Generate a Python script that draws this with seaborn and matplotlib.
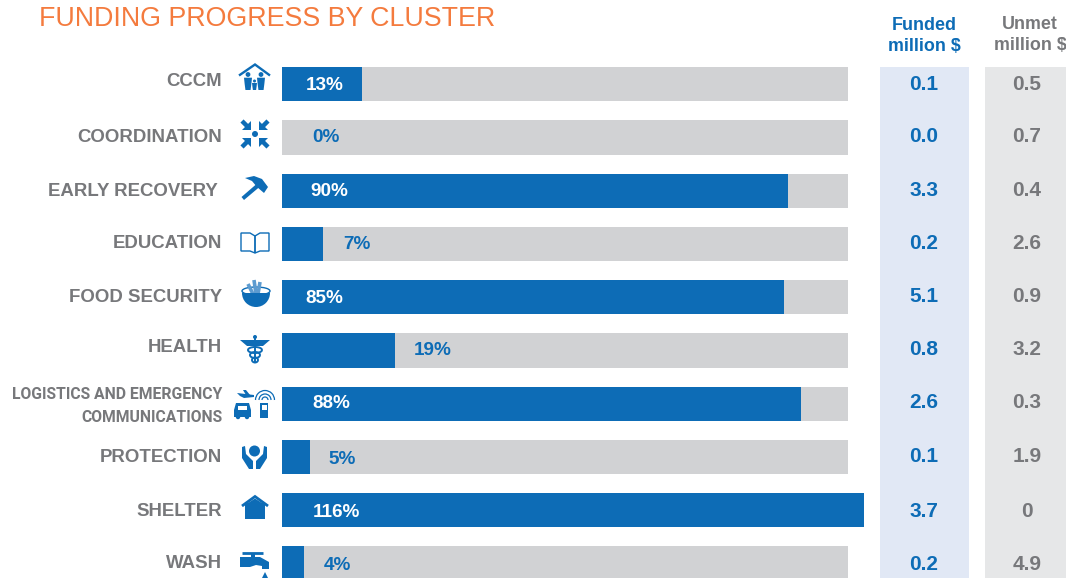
import numpy as np
import pandas as pd
import seaborn as sns
import matplotlib
matplotlib.use("Agg")
import matplotlib.pyplot as plt
from matplotlib.patches import Polygon, Circle, Rectangle, Wedge, Arc, Ellipse

clusters = ["CCCM", "COORDINATION", "EARLY RECOVERY", "EDUCATION", "FOOD SECURITY",
            "HEALTH", "LOGISTICS AND EMERGENCY\nCOMMUNICATIONS", "PROTECTION", "SHELTER", "WASH"]
track_pct = [100] * 10
bar_pct = [14.1, 0, 89.4, 7.2, 88.7, 20.0, 91.7, 4.9, 102.8, 3.9]
pct_labels = ["13%", "0%", "90%", "7%", "85%", "19%", "88%", "5%", "116%", "4%"]
funded = ["0.1", "0.0", "3.3", "0.2", "5.1", "0.8", "2.6", "0.1", "3.7", "0.2"]
unmet = ["0.5", "0.7", "0.4", "2.6", "0.9", "3.2", "0.3", "1.9", "0", "4.9"]

BLUE, TRACK, GREY, ORANGE = "#0D6CB6", "#D1D2D4", "#77787B", "#F47B3E"
W, H = 1066, 578
sns.set_theme(style="white")
plt.rcParams["font.family"] = ["Liberation Sans", "DejaVu Sans"]

fig = plt.figure(figsize=(W / 100, H / 100), dpi=100, facecolor="white")

bg = fig.add_axes([0, 0, 1, 1], zorder=0)
bg.set_xlim(0, W); bg.set_ylim(H, 0); bg.axis("off")
bg.add_patch(Rectangle((880, 67), 89, H - 67, fc="#E1E8F5", ec="none"))
bg.add_patch(Rectangle((985, 67), 81, H - 67, fc="#E6E7E8", ec="none"))

# bars: x 0..100 -> px 282..848; categories 0..9 -> px 84 .. 563
x0, x100 = 282, 848
top = 57.6
ax = fig.add_axes([x0 / W, 0, (880 - x0) / W, (H - top) / H], zorder=1)
ax.patch.set_alpha(0)
df = pd.DataFrame({"cluster": clusters, "track": track_pct, "bar": bar_pct})
sns.barplot(data=df, y="cluster", x="track", color=TRACK, saturation=1, width=0.64, linewidth=0, ax=ax)
sns.barplot(data=df, y="cluster", x="bar", color=BLUE, saturation=1, width=0.64, linewidth=0, ax=ax)
ax.set_xlim(0, (880 - x0) / (x100 - x0) * 100)
ax.set_ylim((H - top) / 53.25 - 0.5, -0.5)
ax.axis("off")

ov = fig.add_axes([0, 0, 1, 1], zorder=2)
ov.set_xlim(0, W); ov.set_ylim(H, 0); ov.axis("off"); ov.patch.set_alpha(0)

ov.text(39, 19.5, "FUNDING PROGRESS BY CLUSTER", color=ORANGE, fontsize=19.3, ha="left", va="center")

def t(x, y, s, c, size=13.4, ha="center", **kw):
    ov.text(x, y, s, color=c, fontsize=size, fontweight="bold", ha=ha, va="center", **kw)

t(924, 25.5, "Funded", BLUE, 12.9); t(924, 46.5, "million $", BLUE, 12.9)
t(1030, 24.5, "Unmet", GREY, 12.9); t(1030, 45.5, "million $", GREY, 12.9)

label_y = [82, 137, 191, 244, 298, 348, None, 457, 512, 564]
label_x = [222, 222, 218, 222, 222, 222, None, 222, 222, 222]
pct_x = [324.5, 326, 329, 357, 324.5, 433, 331, 342, 336.5, 337]
pct_y = [85.5, 137.5, 191.5, 244.5, 298.5, 350.5, 403.5, 459.5, 512.5, 565.5]
val_y = [84, 136.5, 191, 243.5, 297, 349.5, 402, 457, 511.5, 564.5]
for i, c in enumerate(clusters):
    if label_y[i] is not None:
        t(label_x[i], label_y[i], c, GREY, ha="right")
    else:
        a, b = c.split("\n")
        t(222, 394.5, a, GREY, 11.3, ha="right", family="Roboto")
        t(222, 417.5, b, GREY, 11.3, ha="right", family="Roboto")
    inside = pct_labels[i] not in ("0%", "7%", "19%", "5%", "4%")
    t(pct_x[i], pct_y[i], pct_labels[i], "white" if inside else BLUE, 13.6)
    t(923.5, val_y[i], funded[i], BLUE, 15)
    t(1027, val_y[i], unmet[i], GREY, 15)

# ---- decorative cluster icons (pixel space) ----
def poly(pts, fc=BLUE, ec="none", lw=0, fill=True):
    ov.add_patch(Polygon(pts, closed=True, fc=fc if fill else "none", ec=ec, lw=lw))
def line(xs, ys, lw=1.5, c=BLUE):
    ov.plot(xs, ys, color=c, lw=lw, solid_capstyle="butt", solid_joinstyle="miter")
def person(cx, head_y, h, w):
    ov.add_patch(Circle((cx, head_y), w * 0.3, fc=BLUE, ec="none"))
    poly([(cx - w / 2, head_y + w * .4), (cx + w / 2, head_y + w * .4), (cx + w * .42, head_y + h * .6),
          (cx + w * .32, head_y + h), (cx - w * .32, head_y + h), (cx - w * .42, head_y + h * .6)])

# CCCM
line([239, 255, 270], [75.5, 64.5, 75.5], 1.7)
person(248, 74.5, 15.5, 8); person(261, 74.5, 15.5, 8); person(254.5, 81, 9, 5)

# coordination
ov.add_patch(Circle((255, 134), 3, fc=BLUE, ec="none"))
for dx, dy in [(-1, -1), (1, -1), (-1, 1), (1, 1)]:
    line([255 + dx * 13, 255 + dx * 7], [134 + dy * 13, 134 + dy * 7], 3.2)
    poly([(255 + dx * 4, 134 + dy * 4), (255 + dx * 13, 134 + dy * 4), (255 + dx * 4, 134 + dy * 13)])

# hammer
poly([(241.5, 197), (244, 200), (263, 184), (260, 181)])
poly([(245, 178), (254, 176), (262, 179), (268, 187), (264, 193), (257, 187), (252, 181)])

# book
for pts in ([(255, 236), (250, 233), (241, 233), (241, 251), (250, 251), (255, 253)],
            [(255, 236), (260, 233), (269, 233), (269, 251), (260, 251), (255, 253)]):
    poly(pts, ec=BLUE, lw=1, fill=False)

# food
for x1, x2, y1 in [(248, 253, 284), (254, 256, 280), (260, 258, 282)]:
    line([x1, x2], [y1, 294], 2.6, "#5C9BD0")
ov.add_patch(Ellipse((256, 291), 28, 8, fc="none", ec=BLUE, lw=1))
ov.add_patch(Wedge((256, 293), 14, 0, 180, fc=BLUE, ec="none", zorder=3))

# health
ov.add_patch(Circle((255, 337), 2, fc=BLUE, ec="none"))
line([255, 255], [337, 363], 1.4)
poly([(240, 340), (255, 340), (255, 346), (247, 346)])
poly([(270, 340), (255, 340), (255, 346), (263, 346)])
ov.add_patch(Arc((255, 350), 14, 6, fc="none", ec=BLUE, lw=1.4))
ov.add_patch(Arc((255, 355), 10, 6, fc="none", ec=BLUE, lw=1.4))
ov.add_patch(Arc((255, 360), 6, 5, fc="none", ec=BLUE, lw=1.4))

# logistics: plane, truck, phone and signal
poly([(237, 393), (254, 395), (254, 397), (244, 398), (240, 396)])
poly([(243, 390), (246, 390), (250, 395), (246, 395)])
poly([(241, 403), (249, 403), (251, 410), (251, 417), (234, 417), (234, 410), (236, 403)])
ov.add_patch(Rectangle((238, 405.5), 9, 4, fc="white", ec="none"))
ov.add_patch(Circle((238, 417), 2.2, fc=BLUE, ec="none")); ov.add_patch(Circle((247, 417), 2.2, fc=BLUE, ec="none"))
ov.add_patch(Rectangle((260, 403), 8, 15, fc=BLUE, ec="none"))
ov.add_patch(Rectangle((261.5, 405), 5, 5, fc="white", ec="none"))
for d in (6, 12, 19):
    ov.add_patch(Arc((265, 400), d, d, theta1=180, theta2=360, angle=0, ec=BLUE, lw=0.9))

# protection
ov.add_patch(Circle((254.5, 451), 5.5, fc=BLUE, ec="none"))
poly([(242, 447), (245, 446), (246, 454), (253, 461), (253, 469), (249, 469), (242, 458)])
poly([(267, 447), (264, 446), (263, 454), (256, 461), (256, 469), (260, 469), (267, 458)])

# shelter
line([242, 255, 268], [506, 496.5, 506], 2)
ov.add_patch(Rectangle((245, 503), 20, 16, fc=BLUE, ec="none"))
poly([(248, 503), (255, 498.5), (262, 503)])

# wash
line([242, 263], [553, 553], 2)
ov.add_patch(Rectangle((250.5, 553), 4, 5, fc=BLUE, ec="none"))
poly([(240, 557), (260, 557), (269, 562), (269, 569), (262, 569), (262, 566), (256, 565), (250, 567), (240, 567)])
poly([(265, 572), (268, 578), (262, 578)])

fig.savefig("out.png", dpi=100, facecolor="white")
